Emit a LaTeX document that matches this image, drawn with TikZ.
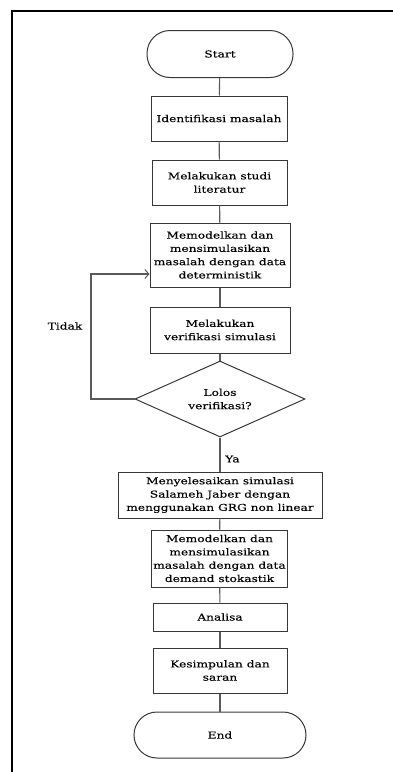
\documentclass[tikz,border=0pt]{standalone}
\usepackage{fontspec}
\setmainfont{DejaVu Serif}[FakeStretch=1.3,FakeBold=0.12]
\usetikzlibrary{shapes.geometric,arrows.meta}
\definecolor{edge}{HTML}{383838}
\definecolor{flow}{HTML}{5A5A5A}
\begin{document}
\begin{tikzpicture}[x=1pt,y=-1pt,
  font=\fontsize{9.4}{13.3}\selectfont,
  proc/.style={draw=edge,line width=1pt,fill=white,align=center,inner sep=2pt},
  term/.style={proc,rounded corners=23pt},
  decide/.style={draw=edge,line width=1pt,diamond,aspect=2.2,inner sep=0pt,align=center,
    minimum width=170pt,minimum height=76pt},
  flowline/.style={draw=flow,line width=1.1pt},
  back/.style={flowline,-{Straight Barb[length=4pt,width=9pt,line width=1pt]}}]
  \useasboundingbox (0,0) rectangle (393,772);
  % page frame (top and left edges)
  \draw[line width=1.8pt] (12,772) -- (12,11) -- (393,11);

  \node[term,minimum width=146pt,minimum height=47pt] (start) at (220,54) {Start};
  \node[proc,minimum width=136pt,minimum height=45pt] (ident) at (219,118.5) {Identifikasi masalah};
  \node[proc,minimum width=135pt,minimum height=45pt] (studi) at (219.5,182.5) {Melakukan studi\\literatur};
  \node[proc,minimum width=140pt,minimum height=64pt] (model) at (220,255) {Memodelkan dan\\mensimulasikan\\masalah dengan data\\deterministik};
  \node[proc,minimum width=140pt,minimum height=46pt] (verif) at (220,330) {Melakukan\\verifikasi simulasi};
  \node[decide] (lolos) at (220,399) {Lolos\\verifikasi?};
  \node[proc,minimum width=204pt,minimum height=46pt] (grg) at (220,495) {Menyelesaikan simulasi\\Salameh Jaber dengan\\menggunakan GRG non linear};
  \node[proc,minimum width=131pt,minimum height=57pt] (stok) at (219.5,558.5) {Memodelkan dan\\mensimulasikan\\masalah dengan data\\demand stokastik};
  \node[proc,minimum width=134pt,minimum height=28pt] (anal) at (220,617) {Analisa};
  \node[proc,minimum width=134pt,minimum height=45pt] (simp) at (220,670.5) {Kesimpulan dan\\saran};
  \node[term,minimum width=172pt,minimum height=46pt] (fin) at (220,735) {End};

  \draw[flowline] (start) -- (ident);
  \draw[flowline] (ident) -- (studi);
  \draw[flowline] (studi) -- (model);
  \draw[flowline] (model) -- (verif);
  \draw[flowline] (verif) -- (lolos);
  \draw[flowline] (lolos) -- (grg);
  \draw[flowline] (grg) -- (stok);
  \draw[flowline] (stok) -- (anal);
  \draw[flowline] (anal) -- (simp);
  \draw[flowline] (simp) -- (fin);

  % loop back when verification fails
  \coordinate (loopdown) at (91,399);
  \coordinate (loopup) at (91,274);
  \draw[back] (lolos.west) -- (loopdown) -- (loopup) -- (loopup -| model.west);

  \node (tidak) at (65,326) {Tidak};
  \node[anchor=west,inner sep=0pt] (ya) at (225,459) {Ya};
\end{tikzpicture}
\end{document}
